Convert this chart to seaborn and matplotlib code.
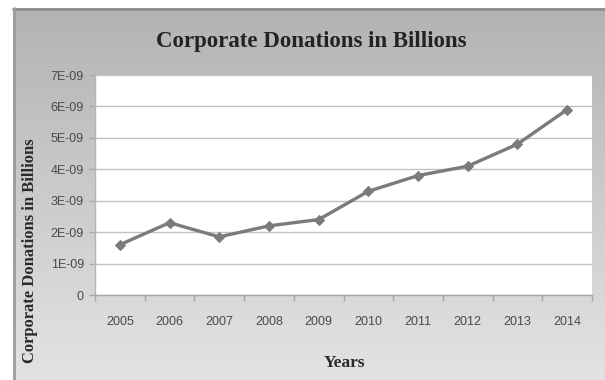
import numpy as np
import pandas as pd
import matplotlib
matplotlib.use("Agg")
import matplotlib.pyplot as plt
from matplotlib.ticker import FuncFormatter, FixedLocator
import seaborn as sns

years = ["2005", "2006", "2007", "2008", "2009", "2010", "2011", "2012", "2013", "2014"]
donations = [1.6e-9, 2.3e-9, 1.85e-9, 2.2e-9, 2.4e-9, 3.3e-9, 3.8e-9, 4.1e-9, 4.8e-9, 5.9e-9]
title_text = "Corporate Donations in Billions"
x_label = "Years"
y_label = "Corporate Donations in Billions"

df = pd.DataFrame({"Year": years, "Donations": donations})

sns.set_theme(style="white")
W, H = 605, 380
fig = plt.figure(figsize=(W / 100, H / 100), dpi=100)
fig.patch.set_facecolor("white")

# grey gradient panel behind the chart
bg = fig.add_axes([13 / W, 0, (W - 13) / W, (H - 8) / H], zorder=0)
grad = np.linspace(0, 1, 256).reshape(-1, 1)
bg.imshow(grad, aspect="auto", cmap=matplotlib.colors.LinearSegmentedColormap.from_list(
    "panel", ["#b3b3b6", "#e3e3e3"]), extent=[0, 1, 0, 1], origin="upper")
bg.set_xlim(0, 1)
bg.set_ylim(0, 1)
bg.axis("off")
bg.plot([0, 1], [0.997, 0.997], color="#8e8e8e", lw=2, transform=bg.transAxes, clip_on=False)
bg.plot([0.001, 0.001], [0, 1], color="#9c9c9c", lw=2, transform=bg.transAxes, clip_on=False)

ax = fig.add_axes([95 / W, (H - 295) / H, (592 - 95) / W, (295 - 75) / H], zorder=1)
ax.set_facecolor("white")

sns.lineplot(data=df, x="Year", y="Donations", ax=ax, color="#7b7b7b", lw=2.4,
             marker="D", markersize=5.5, markeredgecolor="#7b7b7b", sort=False)

ax.set_xlim(-0.5, len(years) - 0.5)
ax.set_ylim(0, 7e-9)
ax.set_yticks(np.arange(0, 8) * 1e-9)
ax.yaxis.set_major_formatter(FuncFormatter(lambda v, p: "0" if abs(v) < 1e-15 else f"{v:.0E}"))
ax.grid(axis="y", color="#c2c2c2", lw=1)
ax.grid(axis="x", visible=False)
ax.set_axisbelow(True)

for s in ["top", "right"]:
    ax.spines[s].set_visible(False)
ax.spines["left"].set_color("#b5b5b5")
ax.spines["bottom"].set_color("#a8a8a8")
ax.spines["left"].set_linewidth(1)
ax.spines["bottom"].set_linewidth(1)

tick_family = ["Liberation Sans", "DejaVu Sans"]
ax.tick_params(axis="y", which="major", length=4, width=1, color="#a8a8a8", pad=4,
               left=True, direction="out")
ax.tick_params(axis="x", which="major", length=0, pad=15)
ax.xaxis.set_minor_locator(FixedLocator(np.arange(-0.5, len(years), 1.0)))
ax.tick_params(axis="x", which="minor", length=4, width=1, color="#a8a8a8",
               bottom=True, direction="out")
for lbl in ax.get_xticklabels() + ax.get_yticklabels():
    lbl.set_fontfamily(tick_family)
    lbl.set_fontsize(9)
    lbl.set_color("#4a4a4a")

serif = ["Liberation Serif", "DejaVu Serif"]
ax.set_xlabel(x_label, fontfamily=serif, fontweight="bold", fontsize=12.5, color="#2a2a2a")
ax.xaxis.set_label_coords(344 / W, 1 - 355 / H, transform=fig.transFigure)
ax.set_ylabel(y_label, fontfamily=serif, fontweight="bold", fontsize=12, color="#2a2a2a")
ax.yaxis.set_label_coords(38 / W, 1 - 251 / H, transform=fig.transFigure)

fig.text(311 / W, 1 - 42 / H, title_text, ha="center", va="center", fontfamily=serif,
         fontweight="bold", fontsize=16.5, color="#232323")

fig.savefig("out.png", dpi=100)
